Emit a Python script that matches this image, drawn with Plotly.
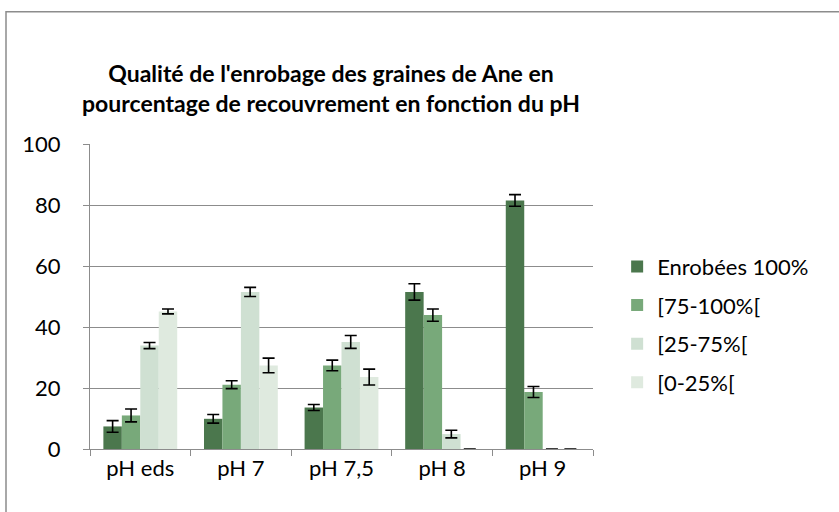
import plotly.graph_objects as go

# Seed coating quality vs pH (mean % and standard error)
categories = ["pH eds", "pH 7", "pH 7,5", "pH 8", "pH 9"]
series_names = ["Enrobées 100%", "[75-100%[", "[25-75%[", "[0-25%["]

enrobees_100 = [7.4, 9.9, 13.6, 51.5, 81.5]
enrobees_75_100 = [11.0, 21.1, 27.4, 43.9, 18.7]
enrobees_25_75 = [33.9, 51.5, 35.1, 4.9, 0]
enrobees_0_25 = [45.1, 27.4, 23.6, 0, 0]

err_100 = [1.9, 1.4, 1.0, 2.7, 1.9]
err_75_100 = [2.1, 1.3, 1.75, 2.0, 1.8]
err_25_75 = [1.0, 1.5, 2.1, 1.25, 0]
err_0_25 = [0.8, 2.4, 2.6, 0, 0]

y_ticks = [0, 20, 40, 60, 80, 100]

colors = ["#4B774D", "#78A97A", "#CFE0D2", "#DFEADF"]

FONT = "Lato"

fig = go.Figure()
for i, (name, vals, errs) in enumerate(zip(
        series_names,
        [enrobees_100, enrobees_75_100, enrobees_25_75, enrobees_0_25],
        [err_100, err_75_100, err_25_75, err_0_25])):
    fig.add_trace(go.Bar(
        x=categories, y=vals, name=name,
        legendgroup=f"g{i}",
        marker=dict(color=colors[i], line=dict(width=0)),
        error_y=dict(type="data", array=errs, visible=True,
                     color="black", thickness=1.6, width=6),
    ))

fig.update_layout(
    width=839, height=512,
    margin=dict(l=90, r=246, t=144, b=63),
    paper_bgcolor="white", plot_bgcolor="white",
    font=dict(family=FONT, size=22, color="black"),
    barmode="group", bargap=0.266, bargroupgap=0,
    title=dict(
        text="Qualité de l'enrobage des graines de Ane en<br>pourcentage de recouvrement en fonction du pH",
        font=dict(family=FONT, size=23, color="black", weight="bold"),
        x=331 / 839, xref="container", xanchor="center",
        y=1 - 82 / 512, yref="container", yanchor="middle",
    ),
    legend=dict(
        x=1.048, xanchor="left", y=(449.3 - 325) / 305, yanchor="middle",
        font=dict(family=FONT, size=22, color="black"),
        tracegroupgap=7, bgcolor="rgba(0,0,0,0)",
    ),
    showlegend=True,
)

fig.update_yaxes(
    range=[0, 100], tickvals=y_ticks,
    showgrid=True, gridcolor="#8C8C8C", gridwidth=1,
    showline=True, linecolor="#8C8C8C", linewidth=1,
    ticks="outside", ticklen=6, tickcolor="#8C8C8C",
    zeroline=False, ticklabelstandoff=18,
)
fig.update_xaxes(
    showline=True, linecolor="#8C8C8C", linewidth=1,
    ticks="outside", ticklen=6, tickcolor="#8C8C8C",
    tickson="boundaries", showgrid=False,
)

# Chart area frame
fig.add_shape(type="rect", xref="paper", yref="paper",
              x0=(6 - 90) / 503, x1=2.0, y0=-1.0, y1=(449.3 - 12) / 305,
              line=dict(color="#8C8C8C", width=1.5), layer="below")

fig.write_html("out.html")
